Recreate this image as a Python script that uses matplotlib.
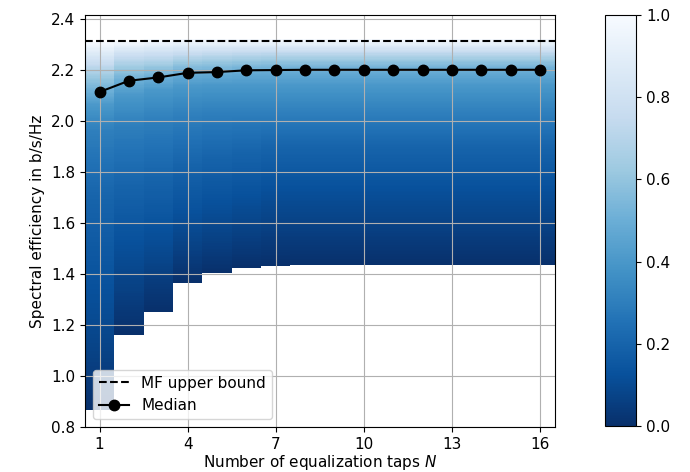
import numpy as np
import matplotlib
matplotlib.use('Agg')
import matplotlib.pyplot as plt

plt.rcParams['font.size'] = 11

# equalizer lengths on the x axis
taps = list(range(1, 17))

# CDF levels and the spectral efficiency (b/s/Hz) reached at each level, one row per N
cdf_levels = [0.0, 0.05, 0.1, 0.2, 0.3, 0.4, 0.5, 0.6, 0.7, 0.8, 0.9, 1.0]
se_quantiles = [
    [0.864, 1.02, 1.22, 1.70, 1.96, 2.06, 2.114, 2.165, 2.205, 2.240, 2.275, 2.310],
    [1.162, 1.30, 1.45, 1.75, 1.98, 2.10, 2.158, 2.200, 2.235, 2.265, 2.290, 2.315],
    [1.248, 1.38, 1.50, 1.78, 2.00, 2.12, 2.171, 2.210, 2.240, 2.270, 2.295, 2.318],
    [1.366, 1.47, 1.58, 1.83, 2.02, 2.135, 2.189, 2.225, 2.250, 2.275, 2.300, 2.320],
    [1.405, 1.50, 1.62, 1.86, 2.03, 2.14, 2.192, 2.228, 2.255, 2.278, 2.300, 2.320],
    [1.425, 1.53, 1.65, 1.88, 2.03, 2.14, 2.199, 2.232, 2.258, 2.280, 2.300, 2.320],
    [1.431, 1.55, 1.68, 1.90, 2.03, 2.14, 2.200, 2.235, 2.260, 2.280, 2.300, 2.320],
    [1.433, 1.55, 1.68, 1.90, 2.03, 2.14, 2.201, 2.235, 2.260, 2.280, 2.300, 2.320],
    [1.433, 1.55, 1.68, 1.90, 2.03, 2.14, 2.201, 2.235, 2.260, 2.280, 2.300, 2.320],
    [1.433, 1.55, 1.68, 1.90, 2.03, 2.14, 2.201, 2.235, 2.260, 2.280, 2.300, 2.320],
    [1.433, 1.55, 1.68, 1.90, 2.03, 2.14, 2.201, 2.235, 2.260, 2.280, 2.300, 2.320],
    [1.433, 1.55, 1.68, 1.90, 2.03, 2.14, 2.201, 2.235, 2.260, 2.280, 2.300, 2.320],
    [1.433, 1.55, 1.68, 1.90, 2.03, 2.14, 2.201, 2.235, 2.260, 2.280, 2.300, 2.320],
    [1.433, 1.55, 1.68, 1.90, 2.03, 2.14, 2.201, 2.235, 2.260, 2.280, 2.300, 2.320],
    [1.433, 1.55, 1.68, 1.90, 2.03, 2.14, 2.201, 2.235, 2.260, 2.280, 2.300, 2.320],
    [1.433, 1.55, 1.68, 1.90, 2.03, 2.14, 2.201, 2.235, 2.260, 2.280, 2.300, 2.320],
]
mf_bound = 2.314

# empirical CDF per column on a fine SE grid, blank outside [min, max]
y_edges = np.arange(0.8, 2.4201, 0.005)
y_mid = 0.5 * (y_edges[:-1] + y_edges[1:])
x_edges = np.arange(0.5, len(taps) + 1, 1.0)

cdf = np.full((len(y_mid), len(taps)), np.nan)
for j, q in enumerate(se_quantiles):
    col = np.interp(y_mid, q, cdf_levels)
    col[(y_mid < q[0]) | (y_mid > q[-1])] = np.nan
    cdf[:, j] = col
cdf = np.ma.masked_invalid(cdf)

median = [q[cdf_levels.index(0.5)] for q in se_quantiles]

fig = plt.figure(figsize=(6.9, 4.72), dpi=100)
ax = fig.add_axes([0.123, 0.0953, 0.681, 0.873])
cax = fig.add_axes([0.877, 0.0975, 0.045, 0.871])

mesh = ax.pcolormesh(x_edges, y_edges, cdf, cmap='Blues_r', vmin=0, vmax=1)
ax.axhline(mf_bound, color='k', ls='--', lw=1.5, label='MF upper bound')
ax.plot(taps, median, 'k-o', lw=1.5, ms=7.5, label='Median')

ax.set_xlim(0.5, 16.5)
ax.set_ylim(0.8, 2.416)
ax.set_xticks([1, 4, 7, 10, 13, 16])
ax.set_yticks(np.arange(0.8, 2.41, 0.2))
ax.grid(True)
ax.set_xlabel('Number of equalization taps $N$', labelpad=1)
ax.set_ylabel('Spectral efficiency in b/s/Hz')
ax.legend(loc='lower left')

cb = fig.colorbar(mesh, cax=cax)
cb.set_ticks(np.arange(0, 1.01, 0.2))

fig.savefig('out.png', dpi=100)
